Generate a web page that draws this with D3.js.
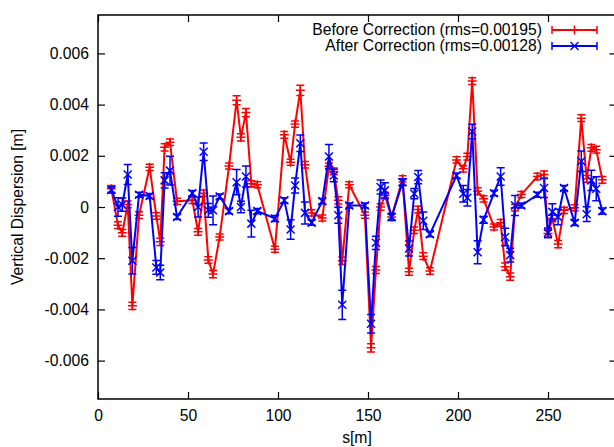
<!DOCTYPE html>
<html>
<head>
<meta charset="utf-8">
<script src="https://cdn.jsdelivr.net/npm/d3@7"></script>
<style>
	body { margin: 0; background: #fff; }
	svg { display: block; font-family: "Liberation Sans", Arial, Helvetica, sans-serif; }
</style>
</head>
<body>
<svg id="chart" width="614" height="447"></svg>
<script>

// BPM positions along the line [m]
var sPos = [7.4, 11.1, 13.5, 16.5, 19.1, 22.8, 28.7, 32.4, 34.6, 37.0,
	40.0, 43.9, 52.4, 55.6, 58.7, 61.3, 63.9, 67.6, 72.8, 77.0,
	79.4, 82.2, 85.2, 88.5, 98.3, 103.5, 107.0, 109.5, 112.4, 115.0,
	118.7, 124.6, 128.3, 131.0, 133.5, 135.7, 139.6, 148.3, 151.7, 154.4,
	157.0, 159.4, 163.1, 169.2, 172.8, 175.7, 177.9, 180.7, 184.4, 199.2,
	202.9, 205.2, 207.9, 210.9, 214.2, 220.0, 223.7, 226.2, 229.0, 231.7,
	235.2, 244.1, 247.8, 250.0, 252.4, 255.6, 258.9, 264.8, 268.5, 271.5,
	274.1, 276.8, 280.2];

// vertical dispersion before correction [m]
var beforeValues = [0.00071, -0.00071, -0.00101, 0.00010, -0.00386, -0.00032, 0.00155, -0.00035, -0.00136, 0.00233,
	0.00253, 0.00022, 0.00026, -0.00097, 0.00054, -0.00207, -0.00262, -0.00117, 0.00160, 0.00417,
	0.00272, 0.00369, 0.00091, 0.00087, -0.00165, 0.00282, 0.00175, 0.00324, 0.00456, 0.00165,
	-0.00023, -0.00043, 0.00159, 0.00139, 0.00026, -0.00210, 0.00087, -0.00032, -0.00550, -0.00246,
	0.00000, 0.00045, -0.00039, 0.00110, -0.00253, -0.00091, -0.00010, -0.00192, -0.00250, 0.00184,
	0.00149, 0.00197, 0.00492, 0.00062, 0.00032, -0.00078, -0.00062, -0.00233, -0.00272, -0.00003,
	0.00049, 0.00119, 0.00127, -0.00104, -0.00045, -0.00145, -0.00013, -0.00003, 0.00347, 0.00110,
	0.00231, 0.00224, 0.00106];

var beforeErrors = [0.00013, 0.00013, 0.00013, 0.00013, 0.00014, 0.00013, 0.00012, 0.00013, 0.00014, 0.00014,
	0.00013, 0.00012, 0.00012, 0.00013, 0.00012, 0.00013, 0.00014, 0.00012, 0.00012, 0.00018,
	0.00014, 0.00016, 0.00012, 0.00012, 0.00012, 0.00013, 0.00012, 0.00012, 0.00020, 0.00013,
	0.00012, 0.00012, 0.00013, 0.00013, 0.00014, 0.00015, 0.00012, 0.00012, 0.00016, 0.00014,
	0.00013, 0.00013, 0.00012, 0.00012, 0.00014, 0.00013, 0.00013, 0.00013, 0.00013, 0.00012,
	0.00012, 0.00013, 0.00013, 0.00013, 0.00012, 0.00012, 0.00013, 0.00014, 0.00014, 0.00013,
	0.00012, 0.00013, 0.00014, 0.00013, 0.00013, 0.00014, 0.00012, 0.00012, 0.00013, 0.00013,
	0.00013, 0.00013, 0.00013];

// vertical dispersion after correction [m]
var afterValues = [0.00067, 0.00000, 0.00009, 0.00127, -0.00210, 0.00048, 0.00043, -0.00236, -0.00256, 0.00104,
	0.00142, -0.00039, 0.00054, 0.00000, 0.00216, -0.00013, -0.00013, 0.00041, -0.00016, 0.00097,
	0.00000, 0.00119, -0.00065, -0.00016, -0.00045, 0.00026, -0.00088, 0.00084, 0.00249, -0.00023,
	-0.00061, 0.00023, 0.00197, 0.00123, -0.00032, -0.00382, 0.00006, 0.00006, -0.00456, -0.00140,
	0.00078, 0.00065, -0.00039, 0.00097, -0.00162, 0.00052, 0.00117, -0.00054, -0.00106, 0.00123,
	0.00052, 0.00036, 0.00295, -0.00177, -0.00050, 0.00054, 0.00119, -0.00117, -0.00188, 0.00006,
	0.00006, 0.00048, 0.00074, -0.00101, -0.00019, -0.00039, 0.00074, -0.00062, 0.00179, -0.00028,
	0.00104, 0.00071, -0.00016];

var afterErrors = [0.00012, 0.00036, 0.00026, 0.00039, 0.00052, 0.00010, 0.00010, 0.00027, 0.00028, 0.00030,
	0.00056, 0.00010, 0.00010, 0.00039, 0.00034, 0.00027, 0.00056, 0.00010, 0.00010, 0.00049,
	0.00022, 0.00041, 0.00052, 0.00010, 0.00012, 0.00010, 0.00038, 0.00029, 0.00032, 0.00043,
	0.00010, 0.00010, 0.00047, 0.00024, 0.00031, 0.00057, 0.00010, 0.00010, 0.00036, 0.00026,
	0.00027, 0.00030, 0.00014, 0.00013, 0.00029, 0.00020, 0.00026, 0.00034, 0.00010, 0.00010,
	0.00032, 0.00032, 0.00028, 0.00045, 0.00013, 0.00010, 0.00034, 0.00034, 0.00027, 0.00039,
	0.00010, 0.00010, 0.00037, 0.00019, 0.00032, 0.00030, 0.00010, 0.00010, 0.00040, 0.00029,
	0.00040, 0.00047, 0.00012];

var xTicks = [0, 50, 100, 150, 200, 250];
var yTicks = [-0.006, -0.004, -0.002, 0, 0.002, 0.004, 0.006];

var seriesNames = ["Before Correction (rms=0.00195)", "After Correction (rms=0.00128)"];
var seriesColors = ["#ff0000", "#0000ff"];

var plotLeft = 98, plotRight = 616.4, plotTop = 15, plotBottom = 399;
var fontSize = "15.7px";

var svg = d3.select("#chart");

var x = d3.scaleLinear().domain([0, 288]).range([plotLeft, plotRight]);
var y = d3.scaleLinear().domain([-0.0075, 0.0075]).range([plotBottom, plotTop]);

function yLabel(d) {
	return d == 0 ? "0" : d.toFixed(3);
}

// Axes (gnuplot style: inward ticks, mirrored on top/right)

function styleAxis(g) {
	g.select(".domain").remove();
	g.attr("font-size", fontSize).attr("font-family", null);
	g.selectAll("text").attr("fill", "#000");
	g.selectAll(".tick line").attr("stroke", "#000").attr("stroke-width", 1.2);
}

svg.append("g")
.attr("transform", "translate(0," + plotBottom + ")")
.call(d3.axisBottom(x).tickValues(xTicks).tickSizeInner(-7).tickSizeOuter(0).tickPadding(10.5))
.call(styleAxis);

svg.append("g")
.attr("transform", "translate(" + plotLeft + ",0)")
.call(d3.axisLeft(y).tickValues(yTicks).tickFormat(yLabel).tickSizeInner(-7).tickSizeOuter(0).tickPadding(9))
.call(styleAxis);

svg.append("g")
.attr("transform", "translate(0," + plotTop + ")")
.call(d3.axisTop(x).tickValues(xTicks).tickFormat("").tickSizeInner(-7).tickSizeOuter(0))
.call(styleAxis);

svg.append("g")
.attr("transform", "translate(" + plotRight + ",0)")
.call(d3.axisRight(y).tickValues(yTicks).tickFormat("").tickSizeInner(-7).tickSizeOuter(0))
.call(styleAxis);

svg.append("rect")
.attr("x", plotLeft)
.attr("y", plotTop)
.attr("width", plotRight - plotLeft)
.attr("height", plotBottom - plotTop)
.attr("fill", "none")
.attr("stroke", "#000")
.attr("stroke-width", 1.5);

// Axis titles

svg.append("text")
.attr("x", 357)
.attr("y", 443)
.attr("text-anchor", "middle")
.attr("font-size", fontSize)
.text("s[m]");

svg.append("text")
.attr("transform", "translate(23,207) rotate(-90)")
.attr("text-anchor", "middle")
.attr("font-size", fontSize)
.text("Vertical Dispersion [m]");

// Series

var series = [
	{ values: beforeValues, errors: beforeErrors, marker: "plus" },
	{ values: afterValues, errors: afterErrors, marker: "cross" }
];

var capHalf = 4, markHalf = 4;

function markerPath(marker, cx, cy) {
	if(marker == "plus") {
		return "M" + (cx - markHalf - 0.5) + "," + cy + "h" + (2 * markHalf + 1) +
		"M" + cx + "," + (cy - markHalf - 0.5) + "v" + (2 * markHalf + 1);
	}
	return "M" + (cx - markHalf) + "," + (cy - markHalf) + "l" + (2 * markHalf) + "," + (2 * markHalf) +
	"M" + (cx - markHalf) + "," + (cy + markHalf) + "l" + (2 * markHalf) + "," + (-2 * markHalf);
}

var plot = svg.append("g");

series.forEach(function (ser, i) {

	var color = seriesColors[i];

	var points = sPos.map(function (s, k) {
		return { s: s, v: ser.values[k], e: ser.errors[k] };
	});

	var g = plot.append("g");

	g.append("path")
	.datum(points)
	.attr("fill", "none")
	.attr("stroke", color)
	.attr("stroke-width", 2)
	.attr("d", d3.line().x(function (d) { return x(d.s); }).y(function (d) { return y(d.v); }));

	g.selectAll(".err")
	.data(points)
	.enter().append("path")
	.attr("class", "err")
	.attr("fill", "none")
	.attr("stroke", color)
	.attr("stroke-width", 1.5)
	.attr("d", function (d) {
		var cx = x(d.s), y0 = y(d.v - d.e), y1 = y(d.v + d.e);
		return "M" + cx + "," + y0 + "V" + y1 +
		"M" + (cx - capHalf) + "," + y0 + "h" + (2 * capHalf) +
		"M" + (cx - capHalf) + "," + y1 + "h" + (2 * capHalf);
	});

	g.selectAll(".mark")
	.data(points)
	.enter().append("path")
	.attr("class", "mark")
	.attr("fill", "none")
	.attr("stroke", color)
	.attr("stroke-width", 1.5)
	.attr("d", function (d) { return markerPath(ser.marker, x(d.s), y(d.v)); });
});

// Legend

var legend = svg.append("g").attr("font-size", fontSize);

seriesNames.forEach(function (name, i) {

	var ly = 30 + i * 16;
	var color = seriesColors[i];

	legend.append("text")
	.attr("x", 542)
	.attr("y", ly)
	.attr("dy", "0.35em")
	.attr("text-anchor", "end")
	.text(name);

	legend.append("path")
	.attr("fill", "none")
	.attr("stroke", color)
	.attr("stroke-width", 2)
	.attr("d", "M552," + ly + "H597");

	legend.append("path")
	.attr("fill", "none")
	.attr("stroke", color)
	.attr("stroke-width", 1.5)
	.attr("d", "M552," + (ly - 4) + "v8M597," + (ly - 4) + "v8");

	legend.append("path")
	.attr("fill", "none")
	.attr("stroke", color)
	.attr("stroke-width", 1.5)
	.attr("d", markerPath(series[i].marker, 574.5, ly));
});

</script>
</body>
</html>
